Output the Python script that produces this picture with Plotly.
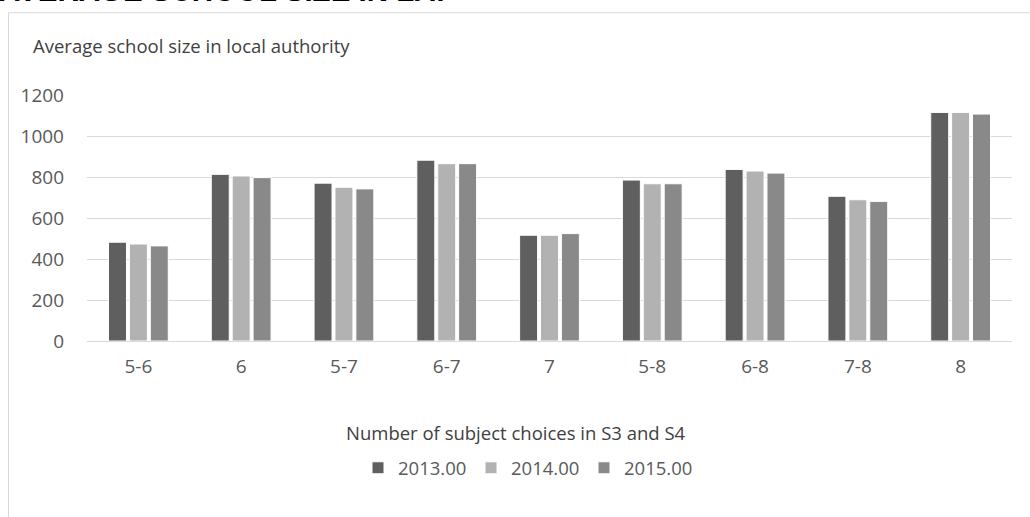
import plotly.graph_objects as go

categories = ["5-6", "6", "5-7", "6-7", "7", "5-8", "6-8", "7-8", "8"]
series_names = ["2013.00", "2014.00", "2015.00"]
values_2013 = [482, 813, 770, 882, 516, 785, 837, 706, 1115]
values_2014 = [473, 805, 750, 865, 516, 767, 829, 689, 1115]
values_2015 = [464, 797, 742, 865, 524, 767, 819, 681, 1107]
series_colors = ["#5f5f5f", "#b2b2b2", "#898989"]
y_ticks = [0, 200, 400, 600, 800, 1000, 1200]

W, H = 1030, 517
L, R, T, B = 87, 18, 95, 175.5
pw = W - L - R
ph = H - T - B

def px_x(px):
    return (px - L) / pw

def px_y(py):
    return (H - B - py) / ph

FONT = "'Open Sans', 'Noto Sans', sans-serif"

fig = go.Figure()
for name, vals, col in zip(series_names, [values_2013, values_2014, values_2015], series_colors):
    fig.add_trace(go.Bar(
        x=categories, y=vals, name=name,
        marker=dict(color=col, line=dict(color="white", width=1)),
    ))

fig.update_layout(
    width=W, height=H,
    margin=dict(l=L, r=R, t=T, b=B, pad=0),
    paper_bgcolor="white", plot_bgcolor="white",
    barmode="group", bargap=0.39, bargroupgap=0.14,
    font=dict(family=FONT, size=18, color="#595959"),
    xaxis=dict(
        showgrid=False, showline=False, ticks="",
        tickfont=dict(size=19, color="#595959"),
        ticklabelstandoff=12,
    ),
    yaxis=dict(
        range=[0, 1200], tickvals=y_ticks,
        showgrid=True, gridcolor="#d9d9d9", gridwidth=1,
        zeroline=True, zerolinecolor="#d9d9d9", zerolinewidth=1,
        showline=False, ticks="",
        tickfont=dict(size=19, color="#595959"),
        ticklabelstandoff=22,
    ),
    showlegend=True,
    legend=dict(
        orientation="h", x=px_x(358), xanchor="left",
        y=px_y(469), yanchor="middle",
        font=dict(size=18.5, color="#595959"),
        entrywidth=68, entrywidthmode="pixels",
        itemwidth=30, traceorder="normal",
        bgcolor="rgba(0,0,0,0)",
    ),
    shapes=[
        dict(type="rect", xref="paper", yref="paper",
             x0=px_x(8.5), x1=px_x(1100), y0=px_y(540), y1=px_y(12.5),
             line=dict(color="#d9d9d9", width=1), fillcolor="rgba(0,0,0,0)",
             layer="below"),
    ],
    annotations=[
        dict(text="<b>AVERAGE SCHOOL SIZE IN LA:</b>", xref="paper", yref="paper",
             x=px_x(-3), y=px_y(-9.5), xanchor="left", yanchor="middle",
             showarrow=False,
             font=dict(family="Liberation Sans, Arial, sans-serif", size=29.5, color="#000000")),
        dict(text="Average school size in local authority", xref="paper", yref="paper",
             x=px_x(31), y=px_y(45), xanchor="left", yanchor="middle",
             showarrow=False, font=dict(size=18.5, color="#404040")),
        dict(text="Number of subject choices in S3 and S4", xref="paper", yref="paper",
             x=px_x(516), y=px_y(433), xanchor="center", yanchor="middle",
             showarrow=False, font=dict(size=18.5, color="#404040")),
    ],
)

fig.write_html(
    "out.html",
    config={"displayModeBar": False},
    post_script="document.body.style.margin='0';document.body.style.padding='0';",
)
